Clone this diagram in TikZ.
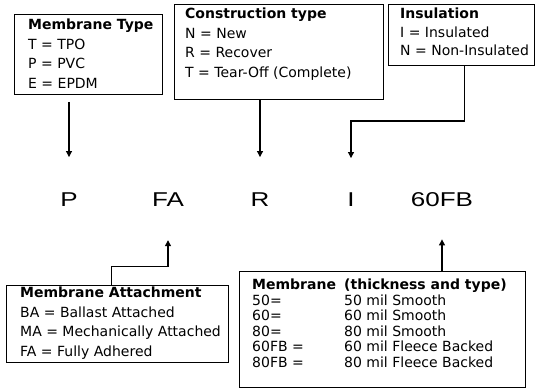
\documentclass[tikz,border=0pt]{standalone}
\usepackage{fontspec}
\setmainfont{DejaVu Sans}
\newfontfamily\bigfont[FakeStretch=1.3]{Liberation Sans}
\usetikzlibrary{arrows.meta}
\begin{document}
\begin{tikzpicture}[x=1pt,y=-1pt,
  boxst/.style={draw=black,line width=1pt,inner sep=0pt,anchor=north west},
  txt/.style={inner sep=0pt,anchor=base west,font=\fontsize{14}{19.5}\selectfont},
  letter/.style={inner sep=0pt,anchor=base,font=\bigfont\fontsize{20}{22}\selectfont},
  arr/.style={line width=1.1pt,-{Triangle[length=6pt,width=6pt]}},
  conn/.style={line width=1.1pt}]
\useasboundingbox (0,0) rectangle (536,390);
% boxes
\node[boxst,minimum width=148pt,minimum height=80pt] (mtbox) at (14,14) {};
\node[boxst,minimum width=209pt,minimum height=95pt] (ctbox) at (174,4) {};
\node[boxst,minimum width=146pt,minimum height=61pt] (insbox) at (388,4) {};
\node[boxst,minimum width=222pt,minimum height=77pt] (attbox) at (6,285) {};
\node[boxst,minimum width=286pt,minimum height=116pt] (membox) at (239,271) {};
% box texts
\node[txt] (mttxt) at (28,30) {\begin{tabular}[t]{@{}l@{}}\textbf{Membrane Type}\\T = TPO\\P = PVC\\E = EPDM\end{tabular}};
\node[txt] (cttxt) at (185,19) {\begin{tabular}[t]{@{}l@{}}\textbf{Construction type}\\N = New\\R = Recover\\T = Tear-Off (Complete)\end{tabular}};
\node[txt,font=\fontsize{14}{18.5}\selectfont] (instxt) at (400,19) {\begin{tabular}[t]{@{}l@{}}\textbf{Insulation}\\I = Insulated\\N = Non-Insulated\end{tabular}};
\node[txt] (atttxt) at (20,298) {\begin{tabular}[t]{@{}l@{}}\textbf{Membrane Attachment}\\BA = Ballast Attached\\MA = Mechanically Attached\\FA = Fully Adhered\end{tabular}};
\node[txt,font=\fontsize{14}{15.5}\selectfont] (memtxt) at (252,290) {\begin{tabular}[t]{@{}p{92pt}@{}l@{}}\textbf{Membrane}&\textbf{(thickness and type)}\\50=&50 mil Smooth\\60=&60 mil Smooth\\80=&80 mil Smooth\\60FB =&60 mil Fleece Backed\\80FB =&80 mil Fleece Backed\end{tabular}};
% code letters
\node[letter] (P) at (69,207) {P};
\node[letter] (FA) at (168,207) {FA};
\node[letter] (R) at (260,207) {R};
\node[letter] (I) at (351,207) {I};
\node[letter] (FB) at (442,207) {60FB};
% connectors
\draw[arr] ([yshift=-7pt]P |- mtbox.south) -- ([yshift=36pt]P.north);
\draw[arr] (R |- ctbox.south) -- ([yshift=36pt]R.north);
\draw[arr] ([xshift=3pt]insbox.south) |- ([yshift=72pt]I.north) -- ([yshift=35pt]I.north);
\draw[arr] ([xshift=-6pt]attbox.north) |- ([yshift=-59pt]FA.south) -- ([yshift=-33pt]FA.south);
\draw[arr] (FB |- membox.north) -- ([yshift=-32pt]FB.south);
\end{tikzpicture}
\end{document}
